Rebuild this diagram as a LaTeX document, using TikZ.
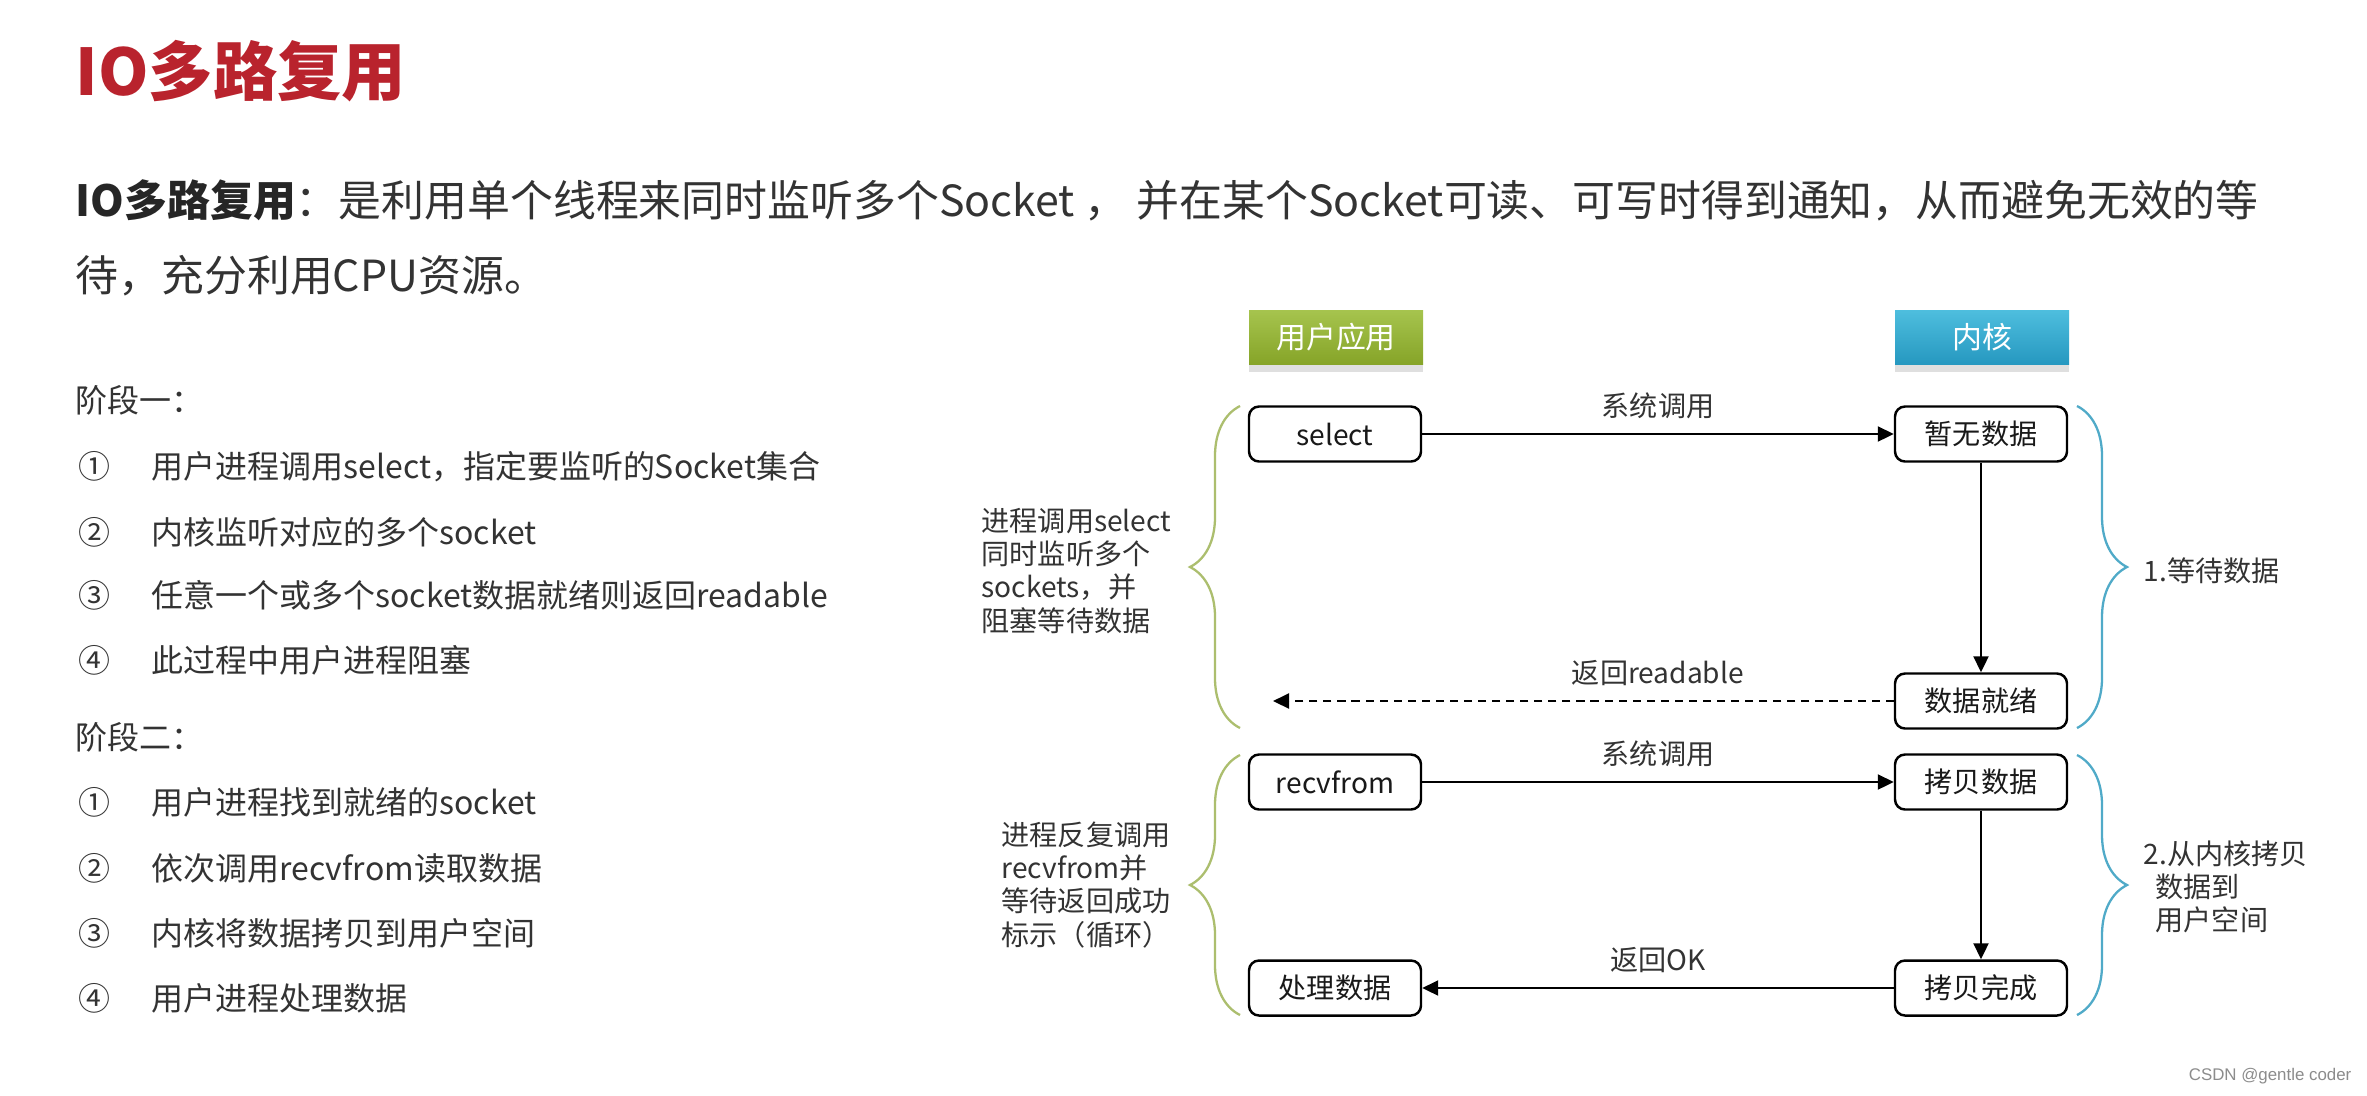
\documentclass[tikz,border=0pt]{standalone}
\usepackage{fontspec}
\setmainfont{Noto Sans CJK SC}
\newfontfamily\wmfont{Liberation Sans}
\usepackage{xcolor}
\usepackage{tikz}
\usetikzlibrary{positioning,calc,arrows.meta,shadows,decorations.pathreplacing}

\definecolor{titlered}{RGB}{185,35,45}
\definecolor{textgray}{RGB}{51,51,51}
\definecolor{usergreen}{RGB}{166,196,78}
\definecolor{usergreendk}{RGB}{134,164,40}
\definecolor{kernblue}{RGB}{78,190,222}
\definecolor{kernbluedk}{RGB}{38,152,192}
\definecolor{bracegreen}{RGB}{172,190,110}
\definecolor{braceblue}{RGB}{80,170,200}

\newcommand{\cnum}[1]{\makebox[7.3mm][l]{#1}}

\begin{document}
\begin{tikzpicture}[x=0.1mm, y=-0.1mm,
    procbox/.style={draw=black, line width=0.7pt, rounded corners=1mm, minimum width=17.2mm, minimum height=5.5mm, inner sep=0pt, font=\fontsize{8}{9.6}\selectfont, text=black!90},
    headbox/.style={minimum width=17.4mm, minimum height=5.4mm, inner sep=0pt, text=white, font=\fontsize{8.5}{10}\selectfont, drop shadow={opacity=0.25, shadow xshift=0mm, shadow yshift=-0.8mm}},
    flow/.style={line width=0.6pt, -{Triangle[length=1.6mm, width=1.5mm]}},
    lbl/.style={font=\fontsize{8}{9.4}\selectfont, text=textgray},
    listtxt/.style={anchor=west, font=\fontsize{9.1}{11}\selectfont, text=textgray, inner sep=0pt},
    bracegrn/.style={decorate, decoration={brace, amplitude=5mm}, draw=bracegreen, line width=0.65pt},
    braceblu/.style={decorate, decoration={brace, amplitude=5mm}, draw=braceblue, line width=0.65pt}]
    \fill[white] (0,0) rectangle (2367,1095);
    \useasboundingbox (0,0) rectangle (2367,1095);
    % title and text
    \node[anchor=west, inner sep=0pt, text=titlered, font=\bfseries\fontsize{18.3}{22}\selectfont] (title) at (75,71) {IO多路复用};
    \node[anchor=west, inner sep=0pt, text=textgray, font=\fontsize{12.2}{14}\selectfont] (desc1) at (75,200) {\textbf{\color{black!85}IO多路复用}：是利用单个线程来同时监听多个Socket ， 并在某个Socket可读、可写时得到通知，从而避免无效的等};
    \node[anchor=west, inner sep=0pt, text=textgray, font=\fontsize{12.2}{14}\selectfont] (desc2) at (75,276) {待，充分利用CPU资源。};
    \node[listtxt] (stepone) at (75,400) {阶段一：};
    \node[listtxt] (onea) at (78,467) {\cnum{①}用户进程调用select，指定要监听的Socket集合};
    \node[listtxt] (oneb) at (78,532) {\cnum{②}内核监听对应的多个socket};
    \node[listtxt] (onec) at (78,595) {\cnum{③}任意一个或多个socket数据就绪则返回readable};
    \node[listtxt] (oned) at (78,660) {\cnum{④}此过程中用户进程阻塞};
    \node[listtxt] (steptwo) at (75,737) {阶段二：};
    \node[listtxt] (twoa) at (78,802) {\cnum{①}用户进程找到就绪的socket};
    \node[listtxt] (twob) at (78,868) {\cnum{②}依次调用recvfrom读取数据};
    \node[listtxt] (twoc) at (78,933) {\cnum{③}内核将数据拷贝到用户空间};
    \node[listtxt] (twod) at (78,998) {\cnum{④}用户进程处理数据};
    % diagram
    \node[headbox, top color=usergreen, bottom color=usergreendk] (user) at (1336,337) {用户应用};
    \node[headbox, top color=kernblue, bottom color=kernbluedk] (kern) at (1982,337) {内核};
    \node[procbox] (sel) at (1335,434) {select};
    \node[procbox] (nodata) at (1981,434) {暂无数据};
    \node[procbox] (ready) at (1981,701) {数据就绪};
    \node[procbox] (recv) at (1335,782) {recvfrom};
    \node[procbox] (copy) at (1981,782) {拷贝数据};
    \node[procbox] (handle) at (1335,988) {处理数据};
    \node[procbox] (done) at (1981,988) {拷贝完成};
    \coordinate (back) at (1273,701);
    \draw[flow] (sel) -- node[lbl, yshift=2.8mm] {系统调用} (nodata);
    \draw[flow] (nodata) -- (ready);
    \draw[flow, dash pattern=on 2.3pt off 1.7pt] (ready) -- node[lbl, pos=0.38, yshift=2.8mm] {返回readable} (back);
    \draw[flow] (recv) -- node[lbl, yshift=2.8mm] {系统调用} (copy);
    \draw[flow] (copy) -- (done);
    \draw[flow] (done) -- node[lbl, yshift=2.8mm] {返回OK} (handle);
    % braces
    \draw[bracegrn] (1240,728) -- (1240,406);
    \draw[bracegrn] (1240,1015) -- (1240,755);
    \draw[braceblu] (2077,406) -- (2077,728);
    \draw[braceblu] (2077,755) -- (2077,1015);
    \node[lbl, anchor=west, align=left, inner sep=0pt] (waitnote) at (981,571) {进程调用select\\同时监听多个\\sockets，并\\阻塞等待数据};
    \node[lbl, anchor=west, align=left, inner sep=0pt] (loopnote) at (1001,885) {进程反复调用\\recvfrom并\\等待返回成功\\标示（循环）};
    \node[lbl, anchor=west, inner sep=0pt] (phaseone) at (2143,571) {1.等待数据};
    \node[lbl, anchor=west, align=left, inner sep=0pt] (phasetwo) at (2143,887) {2.从内核拷贝\\\hspace*{1.2mm}数据到\\\hspace*{1.2mm}用户空间};
    \node[anchor=east, inner sep=0pt, text=black!45, font=\wmfont\fontsize{4.8}{6}\selectfont] (mark) at (2352,1076) {CSDN @gentle coder};
\end{tikzpicture}
\end{document}
